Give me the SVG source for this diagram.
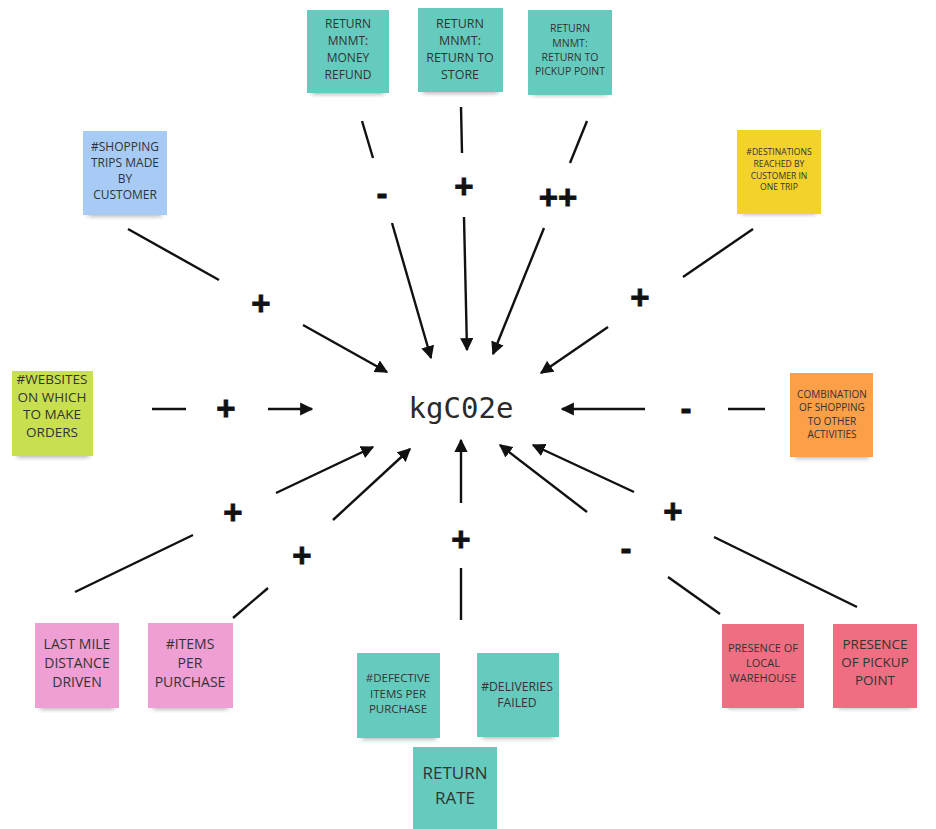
<svg xmlns="http://www.w3.org/2000/svg" width="936" height="829" viewBox="0 0 936 829">
<defs>
<filter id="sh" x="-20%" y="-20%" width="140%" height="160%">
<feGaussianBlur stdDeviation="2.5"/>
</filter>
<marker id="ah" viewBox="0 0 10 10" refX="9" refY="5" markerWidth="5.5" markerHeight="5.5" orient="auto" markerUnits="strokeWidth">
<path d="M0,0 L10,5 L0,10 z" fill="#111"/>
</marker>
<style>
.shadow{fill:#000;opacity:0.35;filter:url(#sh)}
.t{font-family:"Open Sans","Liberation Sans",sans-serif;fill:#333;text-anchor:middle}
.teal{fill:#66cbbf}
.blue{fill:#a7cbf4}
.yellow{fill:#f4d22c}
.lime{fill:#c8e050}
.orange{fill:#fb9f48}
.pink{fill:#ef9fd3}
.red{fill:#f06e82}
.ln{stroke:#111;stroke-width:2.4;fill:none}
.ar{stroke:#111;stroke-width:2.4;fill:none;marker-end:url(#ah)}
.sign{font-family:"Liberation Sans",Arial,sans-serif;font-weight:bold;font-size:33px;fill:#111;stroke:#111;stroke-width:0.8;text-anchor:middle}
.center{font-family:"DejaVu Sans Mono","Liberation Mono",monospace;font-size:29px;fill:#2a2a2a;text-anchor:middle}
</style>
</defs>
<rect width="936" height="829" fill="#fff"/>

<g id="connectors">
<line class="ln" x1="362" y1="121" x2="373" y2="158"/>
<text class="sign" x="382" y="205">-</text>
<line class="ar" x1="392" y1="223" x2="431" y2="358"/>

<line class="ln" x1="461" y1="107" x2="462" y2="153"/>
<text class="sign" x="464" y="198">+</text>
<line class="ar" x1="464" y1="217" x2="467" y2="350"/>

<line class="ln" x1="587" y1="121" x2="570" y2="163"/>
<text class="sign" x="558" y="209">++</text>
<line class="ar" x1="544" y1="228" x2="493" y2="354"/>

<line class="ln" x1="128" y1="229" x2="219" y2="280"/>
<text class="sign" x="261" y="315">+</text>
<line class="ar" x1="303" y1="325" x2="387" y2="372"/>

<line class="ln" x1="753" y1="229" x2="683" y2="277"/>
<text class="sign" x="640" y="309">+</text>
<line class="ar" x1="608" y1="327" x2="541" y2="373"/>

<line class="ln" x1="152" y1="409" x2="186" y2="409"/>
<text class="sign" x="226" y="420">+</text>
<line class="ar" x1="268" y1="409" x2="312" y2="409"/>

<line class="ln" x1="765" y1="409" x2="728" y2="409"/>
<text class="sign" x="686" y="420">-</text>
<line class="ar" x1="645" y1="409" x2="562" y2="409"/>

<line class="ln" x1="75" y1="592" x2="193" y2="535"/>
<text class="sign" x="233" y="524">+</text>
<line class="ar" x1="276" y1="493" x2="373" y2="447"/>

<line class="ln" x1="233" y1="618" x2="268" y2="588"/>
<text class="sign" x="302" y="567">+</text>
<line class="ar" x1="333" y1="520" x2="410" y2="449"/>

<line class="ln" x1="461" y1="620" x2="461" y2="568"/>
<text class="sign" x="461" y="551">+</text>
<line class="ar" x1="461" y1="503" x2="461" y2="440"/>

<line class="ln" x1="720" y1="614" x2="668" y2="577"/>
<text class="sign" x="626" y="560">-</text>
<line class="ar" x1="587" y1="512" x2="500" y2="445"/>

<line class="ln" x1="857" y1="607" x2="714" y2="537"/>
<text class="sign" x="673" y="523">+</text>
<line class="ar" x1="634" y1="492" x2="533" y2="445"/>
</g>

<g id="kgco2e">
<text class="center" x="461" y="418">kgC02e</text>
</g>

<g id="n-money-refund">
<rect class="shadow" x="312" y="86" width="72" height="8"/>
<rect class="teal" x="307" y="10" width="82" height="83"/>
<text class="t" font-size="12"><tspan x="348" y="27.5">RETURN</tspan><tspan x="348" y="44.5">MNMT:</tspan><tspan x="348" y="61.5">MONEY</tspan><tspan x="348" y="78.5">REFUND</tspan></text>
</g>

<g id="n-return-store">
<rect class="shadow" x="423" y="85" width="75" height="8"/>
<rect class="teal" x="418" y="8" width="85" height="84"/>
<text class="t" font-size="12.5"><tspan x="460" y="27.5">RETURN</tspan><tspan x="460" y="44.5">MNMT:</tspan><tspan x="460" y="61.5">RETURN TO</tspan><tspan x="460" y="78.5">STORE</tspan></text>
</g>

<g id="n-return-pickup">
<rect class="shadow" x="533" y="87" width="74" height="8"/>
<rect class="teal" x="528" y="10" width="84" height="85"/>
<text class="t" font-size="10.5"><tspan x="570" y="32.3">RETURN</tspan><tspan x="570" y="46.6">MNMT:</tspan><tspan x="570" y="60.9">RETURN TO</tspan><tspan x="570" y="75.2">PICKUP POINT</tspan></text>
</g>

<g id="n-shopping-trips">
<rect class="shadow" x="88" y="208" width="74" height="8"/>
<rect class="blue" x="83" y="131" width="84" height="84"/>
<text class="t" font-size="12"><tspan x="125" y="151.3">#SHOPPING</tspan><tspan x="125" y="167.3">TRIPS MADE</tspan><tspan x="125" y="183.3">BY</tspan><tspan x="125" y="199.3">CUSTOMER</tspan></text>
</g>

<g id="n-destinations">
<rect class="shadow" x="742" y="206" width="74" height="8"/>
<rect class="yellow" x="737" y="130" width="84" height="84"/>
<text class="t" font-size="8.6"><tspan x="779" y="155">#DESTINATIONS</tspan><tspan x="779" y="166.8">REACHED BY</tspan><tspan x="779" y="178.6">CUSTOMER IN</tspan><tspan x="779" y="190.4">ONE TRIP</tspan></text>
</g>

<g id="n-websites">
<rect class="shadow" x="17" y="449" width="72" height="8"/>
<rect class="lime" x="12" y="371" width="81" height="85"/>
<text class="t" font-size="13.5"><tspan x="52" y="383.8">#WEBSITES</tspan><tspan x="52" y="401.6">ON WHICH</tspan><tspan x="52" y="419.4">TO MAKE</tspan><tspan x="52" y="437.2">ORDERS</tspan></text>
</g>

<g id="n-combination">
<rect class="shadow" x="795" y="450" width="74" height="8"/>
<rect class="orange" x="790" y="373" width="83" height="84"/>
<text class="t" font-size="10"><tspan x="832" y="397.6">COMBINATION</tspan><tspan x="832" y="411.2">OF SHOPPING</tspan><tspan x="832" y="424.8">TO OTHER</tspan><tspan x="832" y="438.4">ACTIVITIES</tspan></text>
</g>

<g id="n-last-mile">
<rect class="shadow" x="40" y="701" width="74" height="8"/>
<rect class="pink" x="35" y="623" width="84" height="85"/>
<text class="t" font-size="14"><tspan x="77" y="649">LAST MILE</tspan><tspan x="77" y="668">DISTANCE</tspan><tspan x="77" y="687">DRIVEN</tspan></text>
</g>

<g id="n-items">
<rect class="shadow" x="153" y="701" width="75" height="8"/>
<rect class="pink" x="148" y="623" width="85" height="85"/>
<text class="t" font-size="14"><tspan x="190" y="649">#ITEMS</tspan><tspan x="190" y="668">PER</tspan><tspan x="190" y="687">PURCHASE</tspan></text>
</g>

<g id="n-defective">
<rect class="shadow" x="362" y="731" width="74" height="8"/>
<rect class="teal" x="357" y="653" width="83" height="85"/>
<text class="t" font-size="11.5"><tspan x="398" y="682">#DEFECTIVE</tspan><tspan x="398" y="697.6">ITEMS PER</tspan><tspan x="398" y="713.2">PURCHASE</tspan></text>
</g>

<g id="n-deliveries">
<rect class="shadow" x="482" y="730" width="72" height="8"/>
<rect class="teal" x="477" y="653" width="82" height="84"/>
<text class="t" font-size="12.2"><tspan x="517" y="690.5">#DELIVERIES</tspan><tspan x="517" y="707">FAILED</tspan></text>
</g>

<g id="n-return-rate">
<rect class="teal" x="413" y="747" width="84" height="82"/>
<text class="t" font-size="17"><tspan x="455" y="779">RETURN</tspan><tspan x="455" y="804">RATE</tspan></text>
</g>

<g id="n-local-warehouse">
<rect class="shadow" x="727" y="700" width="72" height="8"/>
<rect class="red" x="722" y="624" width="82" height="84"/>
<text class="t" font-size="11"><tspan x="763" y="652">PRESENCE OF</tspan><tspan x="763" y="667">LOCAL</tspan><tspan x="763" y="682">WAREHOUSE</tspan></text>
</g>

<g id="n-pickup-point">
<rect class="shadow" x="838" y="700" width="74" height="8"/>
<rect class="red" x="833" y="624" width="84" height="84"/>
<text class="t" font-size="13.5"><tspan x="875" y="649">PRESENCE</tspan><tspan x="875" y="667">OF PICKUP</tspan><tspan x="875" y="685">POINT</tspan></text>
</g>
</svg>
